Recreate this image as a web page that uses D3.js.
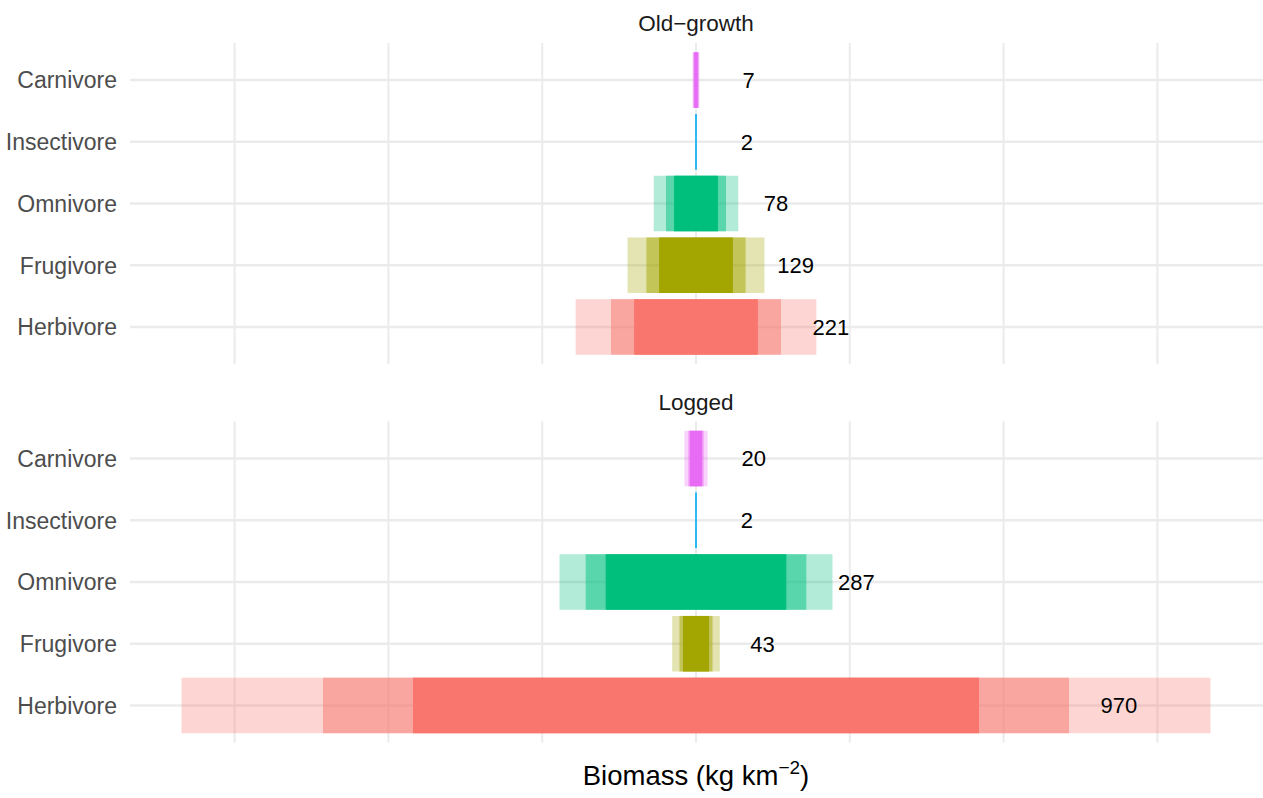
<!DOCTYPE html>
<html>
<head>
<meta charset="utf-8">
<script src="https://cdn.jsdelivr.net/npm/d3@7"></script>
<style>
  html, body { margin: 0; padding: 0; background: #ffffff; }
  svg { display: block; font-family: "Liberation Sans", Arial, Helvetica, sans-serif; }
</style>
</head>
<body>
<svg id="chart" width="1263" height="798"></svg>
<script>
// ---- data ----
const categories = ["Carnivore", "Insectivore", "Omnivore", "Frugivore", "Herbivore"];
const facets = ["Old\u2212growth", "Logged"];
const colors = ["#E76BF3", "#00B0F6", "#00BF7D", "#A3A500", "#F8766D"];
// full bar widths (kg km^-2), bars are centred on zero
const oldGrowthLow  = [5, 1.5, 57, 96, 161];
const oldGrowthMean = [7, 2, 78, 129, 221];
const oldGrowthHigh = [9, 2.5, 110, 178, 313];
const loggedLow  = [16, 1.5, 235, 34, 736];
const loggedMean = [20, 2, 287, 43, 970];
const loggedHigh = [30, 2.5, 355, 62, 1338];
const gridTicks = [-600, -400, -200, 0, 200, 400, 600];

const facetData = [
  { name: facets[0], low: oldGrowthLow, mean: oldGrowthMean, high: oldGrowthHigh },
  { name: facets[1], low: loggedLow, mean: loggedMean, high: loggedHigh }
];

// ---- layout ----
const svg = d3.select("#chart");
const panelLeft = 130, panelRight = 1262;
const panels = [{ top: 43, bottom: 364 }, { top: 421.5, bottom: 742.5 }];
const labelOffset = 65; // data units to the right of value/2

const x = d3.scaleLinear().domain([-736, 736]).range([panelLeft, panelRight]);

facetData.forEach((f, i) => {
  const p = panels[i];
  // discrete scale with 0.6 expansion each side (ggplot style)
  const y = d3.scalePoint().domain(categories)
    .range([p.top, p.bottom]).padding(0.6);
  const step = y.step();
  const bh = step * 0.9;

  const g = svg.append("g");

  // grid
  g.selectAll("line.v").data(gridTicks).join("line")
    .attr("x1", d => x(d)).attr("x2", d => x(d))
    .attr("y1", p.top).attr("y2", p.bottom)
    .attr("stroke", "#EBEBEB").attr("stroke-width", 2);
  g.selectAll("line.h").data(categories).join("line")
    .attr("x1", panelLeft).attr("x2", 1263)
    .attr("y1", d => y(d)).attr("y2", d => y(d))
    .attr("stroke", "#EBEBEB").attr("stroke-width", 2.5);

  // bars: high (light), mean (medium), low (dark)
  const layers = [
    { vals: f.high, op: 0.3 },
    { vals: f.mean, op: 0.5 },
    { vals: f.low, op: 1 }
  ];
  layers.forEach(L => {
    g.selectAll(null).data(categories).join("rect")
      .attr("x", (d, k) => x(-L.vals[k] / 2))
      .attr("width", (d, k) => x(L.vals[k] / 2) - x(-L.vals[k] / 2))
      .attr("y", d => y(d) - bh / 2)
      .attr("height", bh)
      .attr("fill", (d, k) => colors[k])
      .attr("fill-opacity", L.op);
  });

  // value labels
  g.selectAll(null).data(categories).join("text")
    .attr("x", (d, k) => x(f.mean[k] / 2 + labelOffset))
    .attr("y", d => y(d))
    .attr("dy", "0.36em")
    .attr("text-anchor", "middle")
    .attr("font-size", 22)
    .attr("fill", "#000000")
    .text((d, k) => f.mean[k]);

  // y axis labels
  g.selectAll(null).data(categories).join("text")
    .attr("x", 117)
    .attr("y", d => y(d))
    .attr("dy", "0.36em")
    .attr("text-anchor", "end")
    .attr("font-size", 23)
    .attr("fill", "#4D4D4D")
    .text(d => d);

  // strip title
  svg.append("text")
    .attr("x", (panelLeft + panelRight) / 2)
    .attr("y", p.top - 12)
    .attr("text-anchor", "middle")
    .attr("font-size", 22.5)
    .attr("fill", "#1A1A1A")
    .text(f.name);
});

// x axis title
const title = svg.append("text")
  .attr("x", (panelLeft + panelRight) / 2)
  .attr("y", 785)
  .attr("text-anchor", "middle")
  .attr("font-size", 27.5)
  .attr("fill", "#000000");
title.append("tspan").text("Biomass (kg km");
title.append("tspan").attr("font-size", 19).attr("dy", -11).text("\u22122");
title.append("tspan").attr("dy", 11).text(")");
</script>
</body>
</html>
